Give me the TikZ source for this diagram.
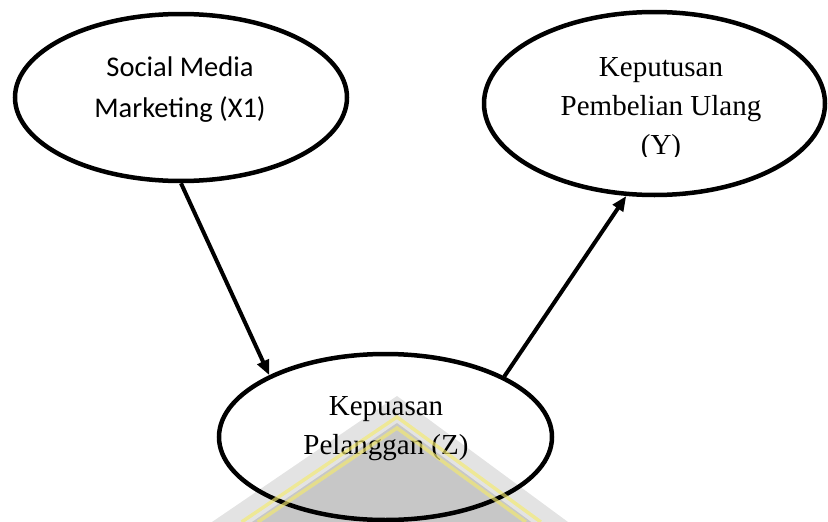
\documentclass[tikz,border=0pt]{standalone}
\usepackage{fontspec}
\setmainfont{Liberation Serif}
\newfontfamily\calib{Carlito}
\usetikzlibrary{shapes.geometric,arrows.meta}
\definecolor{wmyellow}{RGB}{245,235,110}
\tikzset{
  oval/.style={draw=black, ellipse, line width=4.5pt, inner sep=0pt},
  lbl/.style={align=center, inner sep=0pt, text=black},
  serif/.style={font=\fontsize{29}{39}\selectfont},
  sans/.style={font=\calib\fontsize{28.5}{41}\selectfont},
  link/.style={line width=4pt, -{Triangle[length=15pt,width=12pt]}},
}
\begin{document}
\begin{tikzpicture}[x=1pt,y=-1pt]
\useasboundingbox (0,0) rectangle (828,522);
% ellipses
\node[oval, minimum width=332pt, minimum height=167pt] (x1) at (181,97.5) {};
\node[oval, minimum width=341pt, minimum height=183pt] (y) at (654.5,103.5) {};
\node[oval, minimum width=333pt, minimum height=166pt] (z) at (385.5,437) {};
% labels
\node[lbl, sans] (tx1) at (180,90) {Social Media\\Marketing (X1)};
\begin{scope}
\clip (400,0) rectangle (828,156);
\node[lbl, serif] (ty) at (661,109) {Keputusan\\Pembelian Ulang\\(Y)};
\end{scope}
\node[lbl, serif] (tz) at (386,429) {Kepuasan\\Pelanggan (Z)};
% connectors
\draw[link] (x1.south) -- (z.152);
\draw[link] (z.27) -- (y.253);
% watermark (translucent, on top)
\fill[black, opacity=0.11] (212,522) -- (397,396) -- (568,522) -- cycle;
\fill[black, opacity=0.12] ({397-1.48*(125-27)},522) -- (397,423) -- ({397+1.37*(125-27)},522) -- cycle;
\foreach \d in {20,31}
  \draw[wmyellow, opacity=0.65, line width=3.5pt] ({397-1.48*(125-\d)},522) -- (397,397+\d) -- ({397+1.37*(125-\d)},522);
\end{tikzpicture}
\end{document}
